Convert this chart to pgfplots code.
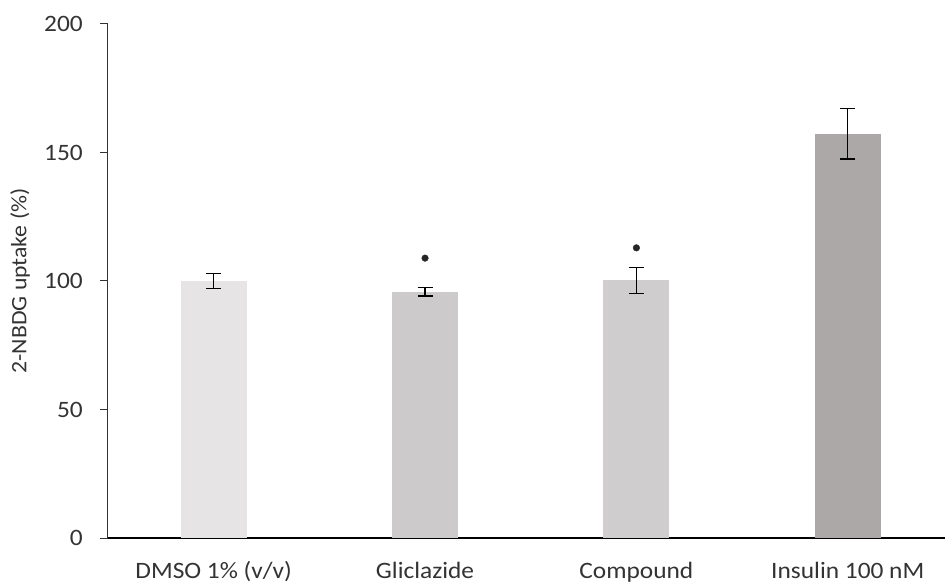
\documentclass[border=0pt]{standalone}
\usepackage{fontspec}
\setmainfont{Carlito}[FakeStretch=1.08]
\usepackage{pgfplots}
\pgfplotsset{compat=1.18}
\definecolor{cDMSO}{HTML}{E6E4E5}
\definecolor{cGlic}{HTML}{CCCACB}
\definecolor{cComp}{HTML}{CFCDCE}
\definecolor{cIns}{HTML}{ACA8A8}
\definecolor{txt}{HTML}{333333}
\begin{document}
\fontsize{23pt}{27pt}\selectfont
\begin{tikzpicture}
\path[use as bounding box] (-108pt,-46pt) rectangle (837pt,538pt);
\begin{axis}[
  at={(0pt,0pt)}, anchor=south west,
  scale only axis, width=837pt, height=514pt,
  xmin=-0.5, xmax=3.46, ymin=0, ymax=200,
  axis x line=bottom, axis y line=left,
  x axis line style={-, black, line width=1.4pt},
  y axis line style={-, black!80, line width=1pt},
  xtick={0,1,2,3},
  xticklabels={DMSO 1\% (v/v), Gliclazide, Compound, Insulin 100 nM},
  ytick={0,50,100,150,200},
  tick align=outside, major tick length=8pt,
  xtick style={draw=none},
  ytick style={black!80, line width=1pt},
  /pgf/number format/assume math mode=true,
  tick label style={font=\fontsize{23.5pt}{27pt}\selectfont, text=txt},
  yticklabel style={inner sep=0pt, anchor=east, xshift=-17pt},
  xticklabel style={inner sep=0pt, anchor=base, yshift=-32pt},
  every axis y label/.style={at={(axis description cs:0,0.5)}, xshift=-88pt, rotate=90, anchor=center, font=\fontsize{22pt}{26pt}\selectfont, text=txt},
  ylabel={2-NBDG uptake (\%)},
  bar width=66pt,
  clip=false,
]
\addplot[ybar, bar shift=0pt, fill=cDMSO, draw=none,
  error bars/.cd, y dir=both, y explicit,
  error bar style={black, line width=1.2pt},
  error mark options={rotate=90, mark size=7.5pt, line width=1.2pt, black}]
  coordinates {(0,100) +- (0,3)};
\addplot[ybar, bar shift=0pt, fill=cGlic, draw=none,
  error bars/.cd, y dir=both, y explicit,
  error bar style={black, line width=1.2pt},
  error mark options={rotate=90, mark size=7.5pt, line width=1.2pt, black}]
  coordinates {(1,95.8) +- (0,1.6)};
\addplot[ybar, bar shift=0pt, fill=cComp, draw=none,
  error bars/.cd, y dir=both, y explicit,
  error bar style={black, line width=1.2pt},
  error mark options={rotate=90, mark size=7.5pt, line width=1.2pt, black}]
  coordinates {(2,100.2) +- (0,5)};
\addplot[ybar, bar shift=0pt, fill=cIns, draw=none,
  error bars/.cd, y dir=both, y explicit,
  error bar style={black, line width=1.2pt},
  error mark options={rotate=90, mark size=7.5pt, line width=1.2pt, black}]
  coordinates {(3,157.3) +- (0,9.8)};
\addplot[only marks, mark=*, mark size=3.3pt, black!85] coordinates {(1,108.9) (2,112.9)};
\end{axis}
\end{tikzpicture}
\end{document}
